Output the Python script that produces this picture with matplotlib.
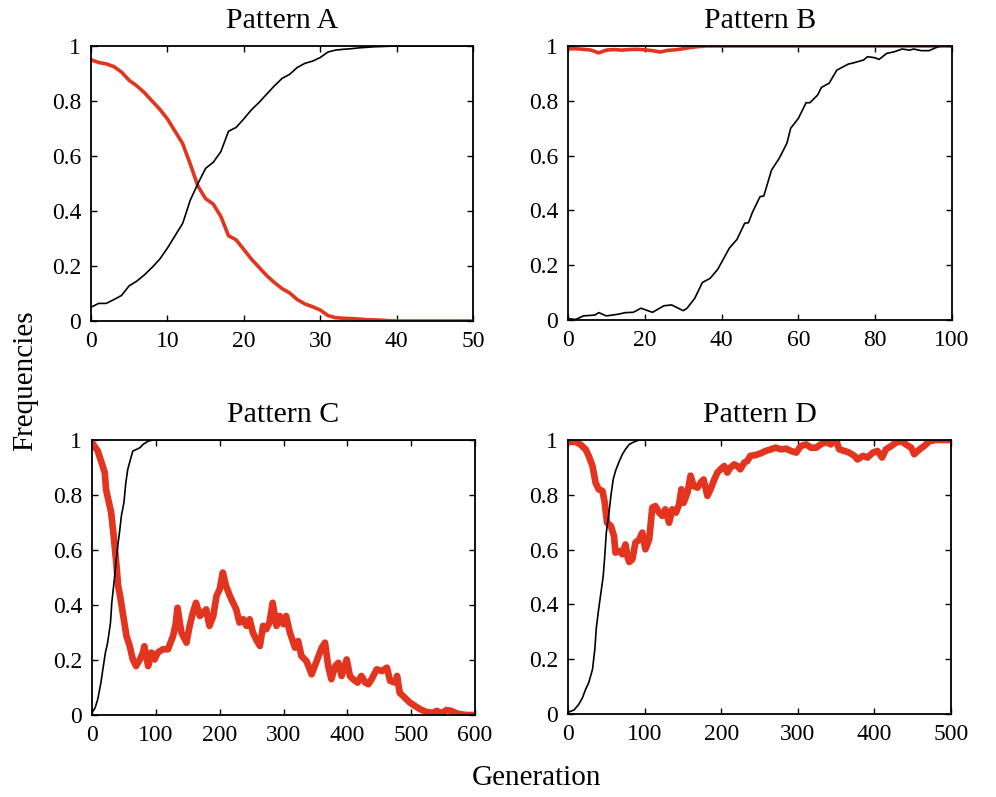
import matplotlib
matplotlib.use("Agg")
import matplotlib.pyplot as plt

plt.rcParams['font.family'] = ['Liberation Serif', 'DejaVu Serif']

# ---------------- data ----------------
# Pattern A (generation 0..50)
a_gen = list(range(0, 51))
a_red = [0.95, 0.94, 0.935, 0.925, 0.905, 0.875, 0.855, 0.83, 0.80, 0.77,
         0.735, 0.69, 0.645, 0.57, 0.49, 0.445, 0.425, 0.38, 0.31, 0.295,
         0.26, 0.225, 0.195, 0.165, 0.14, 0.118, 0.102, 0.078, 0.062, 0.052,
         0.04, 0.02, 0.012, 0.01, 0.009, 0.007, 0.005, 0.004, 0.003, 0.001,
         0, 0, 0, 0, 0, 0, 0, 0, 0, 0, 0]
a_black = [0.05, 0.064, 0.064, 0.078, 0.093, 0.128, 0.145, 0.168, 0.195, 0.225,
           0.265, 0.31, 0.355, 0.44, 0.50, 0.555, 0.577, 0.616, 0.69, 0.704,
           0.735, 0.768, 0.795, 0.825, 0.855, 0.882, 0.897, 0.922, 0.937, 0.945,
           0.958, 0.978, 0.985, 0.988, 0.99, 0.993, 0.995, 0.997, 0.998, 0.999,
           1, 1, 1, 1, 1, 1, 1, 1, 1, 1, 1]

# Pattern B
b_red_x = [0, 2, 4, 6, 8, 10, 12, 14, 16, 18, 20, 22, 24, 26, 28, 30, 32, 34, 36, 100]
b_red_y = [0.99, 0.99, 0.988, 0.985, 0.975, 0.985, 0.987, 0.985, 0.987, 0.988,
           0.986, 0.983, 0.978, 0.984, 0.986, 0.99, 0.995, 0.998, 1.0, 1.0]
b_black_x = [0, 2, 4, 7, 8, 10, 13, 15, 17, 19, 22, 25, 27, 30, 31, 33, 35, 37, 39,
             42, 44, 46, 47, 48, 50, 51, 53, 55, 57, 58, 60, 62, 63, 65, 66, 68, 70,
             73, 74, 76, 77, 78, 80, 81, 83, 85, 87, 89, 90, 92, 94, 96, 97, 100]
b_black_y = [0.005, 0.002, 0.015, 0.018, 0.027, 0.015, 0.021, 0.027, 0.028, 0.043,
             0.028, 0.052, 0.055, 0.034, 0.043, 0.079, 0.137, 0.152, 0.185, 0.262,
             0.294, 0.353, 0.355, 0.392, 0.45, 0.453, 0.547, 0.59, 0.645, 0.7,
             0.736, 0.793, 0.793, 0.821, 0.849, 0.864, 0.912, 0.934, 0.937, 0.945,
             0.949, 0.961, 0.957, 0.951, 0.973, 0.979, 0.989, 0.985, 0.989, 0.983,
             0.983, 0.995, 1.0, 1.0]

# Pattern C
c_red_x = [0, 2, 9, 15, 20, 22, 26, 30, 34, 38, 41, 44, 49, 54, 59, 64, 69, 75, 80, 82,
           88, 93, 98, 103, 111, 119, 127, 131, 134, 140, 148, 153, 158, 163, 169, 174,
           179, 184, 190, 195, 200, 205, 210, 216, 221, 226, 231, 237, 242, 247, 252,
           257, 263, 268, 273, 278, 283, 289, 294, 300, 304, 310, 318, 323, 328, 336,
           344, 349, 355, 360, 365, 370, 375, 381, 386, 391, 399, 404, 409, 416, 422,
           428, 433, 438, 446, 454, 462, 467, 475, 478, 482, 490, 498, 506, 514, 524,
           534, 540, 548, 555, 563, 571, 579, 587, 600]
c_red_y = [0.99, 0.984, 0.96, 0.918, 0.881, 0.82, 0.778, 0.736, 0.65, 0.554, 0.469,
           0.433, 0.36, 0.287, 0.251, 0.202, 0.178, 0.202, 0.227, 0.25, 0.178, 0.227,
           0.202, 0.227, 0.239, 0.239, 0.287, 0.33, 0.39, 0.3, 0.263, 0.324, 0.372,
           0.408, 0.36, 0.372, 0.384, 0.324, 0.36, 0.433, 0.457, 0.518, 0.469, 0.433,
           0.408, 0.384, 0.336, 0.348, 0.324, 0.348, 0.3, 0.275, 0.251, 0.324, 0.312,
           0.336, 0.408, 0.324, 0.36, 0.33, 0.36, 0.3, 0.245, 0.269, 0.215, 0.196,
           0.148, 0.178, 0.215, 0.245, 0.263, 0.178, 0.13, 0.178, 0.19, 0.142, 0.202,
           0.142, 0.13, 0.118, 0.142, 0.118, 0.112, 0.13, 0.166, 0.16, 0.172, 0.124,
           0.118, 0.142, 0.081, 0.063, 0.045, 0.033, 0.021, 0.011, 0.008, 0.015,
           0.006, 0.018, 0.015, 0.006, 0.002, 0.0, 0.0]
c_black_x = [0, 5, 9, 14, 17, 21, 24, 26, 29, 31, 35, 38, 41, 43, 46, 50, 53, 56, 61,
             64, 70, 75, 80, 88, 96, 100, 600]
c_black_y = [0.008, 0.027, 0.057, 0.118, 0.166, 0.227, 0.257, 0.287, 0.336, 0.408,
             0.493, 0.566, 0.627, 0.663, 0.724, 0.772, 0.845, 0.893, 0.936, 0.96,
             0.966, 0.972, 0.984, 0.996, 1.0, 1.0, 1.0]

# Pattern D
d_red_x = [0, 10, 16, 23, 27, 32, 36, 40, 45, 48, 51, 56, 60, 62, 67, 71, 75, 78, 80,
           84, 88, 93, 97, 101, 106, 110, 114, 119, 123, 127, 132, 136, 141, 145, 148,
           151, 156, 160, 164, 169, 173, 177, 182, 186, 191, 195, 199, 204, 208, 212,
           217, 221, 225, 230, 234, 238, 245, 252, 258, 265, 271, 278, 285, 291, 298,
           304, 311, 317, 324, 330, 337, 343, 350, 354, 361, 367, 374, 378, 385, 391,
           398, 404, 410, 415, 422, 428, 435, 441, 448, 452, 459, 465, 472, 480, 500]
d_red_y = [0.993, 0.993, 0.984, 0.966, 0.942, 0.905, 0.844, 0.82, 0.814, 0.771, 0.698,
           0.686, 0.65, 0.589, 0.595, 0.583, 0.619, 0.57, 0.555, 0.564, 0.625, 0.637,
           0.662, 0.601, 0.637, 0.753, 0.759, 0.735, 0.723, 0.747, 0.698, 0.747, 0.735,
           0.765, 0.82, 0.771, 0.808, 0.87, 0.832, 0.826, 0.844, 0.856, 0.796, 0.82,
           0.856, 0.881, 0.893, 0.905, 0.881, 0.899, 0.911, 0.905, 0.893, 0.917, 0.923,
           0.942, 0.945, 0.952, 0.96, 0.966, 0.972, 0.966, 0.968, 0.96, 0.954, 0.978,
           0.984, 0.972, 0.972, 0.984, 0.993, 0.984, 1.0, 0.966, 0.96, 0.954, 0.942,
           0.929, 0.942, 0.936, 0.954, 0.96, 0.936, 0.966, 0.978, 0.99, 0.996, 0.984,
           0.972, 0.948, 0.966, 0.978, 0.996, 1.0, 1.0]
d_black_x = [0, 1, 8, 14, 19, 23, 27, 32, 35, 37, 40, 43, 46, 48, 50, 53, 56, 59, 62,
             67, 71, 75, 80, 86, 93, 100, 500]
d_black_y = [0.005, 0.007, 0.015, 0.035, 0.06, 0.09, 0.114, 0.163, 0.236, 0.315,
             0.382, 0.443, 0.504, 0.577, 0.662, 0.723, 0.796, 0.856, 0.887, 0.923,
             0.948, 0.966, 0.984, 0.993, 1.0, 1.0, 1.0]

titles = ["Pattern A", "Pattern B", "Pattern C", "Pattern D"]
xmaxes = [50, 100, 600, 500]
xticks_list = [[0, 10, 20, 30, 40, 50], [0, 20, 40, 60, 80, 100],
               [0, 100, 200, 300, 400, 500, 600], [0, 100, 200, 300, 400, 500]]
yticks = [0, 0.2, 0.4, 0.6, 0.8, 1]
ytick_labels = ["0", "0.2", "0.4", "0.6", "0.8", "1"]

RED = "#E2341F"

fig = plt.figure(figsize=(9.96, 7.97), dpi=100)
W, H = 996, 797
boxes = [(91, 46, 473, 321), (568, 46, 952, 320), (92, 440, 475, 715), (568, 440, 951, 714)]
axes = []
for (l, t, r, b) in boxes:
    axes.append(fig.add_axes([l / W, 1 - b / H, (r - l) / W, (b - t) / H]))

series = [
    (a_gen, a_red, a_gen, a_black, 2.6),
    (b_red_x, b_red_y, b_black_x, b_black_y, 2.6),
    (c_red_x, c_red_y, c_black_x, c_black_y, 4.8),
    (d_red_x, d_red_y, d_black_x, d_black_y, 4.8),
]

for ax, (rx, ry, bx, by, rlw), title, xm, xt in zip(axes, series, titles, xmaxes, xticks_list):
    ax.plot(rx, ry, color=RED, lw=rlw, solid_joinstyle='round', zorder=2)
    ax.plot(bx, by, color="black", lw=1.2, zorder=3)
    ax.set_xlim(0, xm)
    ax.set_ylim(0, 1)
    ax.set_xticks(xt)
    ax.set_xticklabels([str(v) for v in xt])
    ax.set_yticks(yticks)
    ax.set_yticklabels(ytick_labels)
    ax.tick_params(direction='in', length=4, width=1.0, top=True, right=True,
                   labelsize=17, pad=7)
    for s in ax.spines.values():
        s.set_linewidth(1.3)
        s.set_zorder(4)
    ax.set_title(title, fontsize=21.5, pad=13)

fig.text(25 / W, 1 - 381 / H, "Frequencies", rotation=90, fontsize=21,
         ha='center', va='center')
fig.text(536 / W, 1 - 778 / H, "Generation", fontsize=21, ha='center', va='center')

fig.savefig("out.png", dpi=100)
